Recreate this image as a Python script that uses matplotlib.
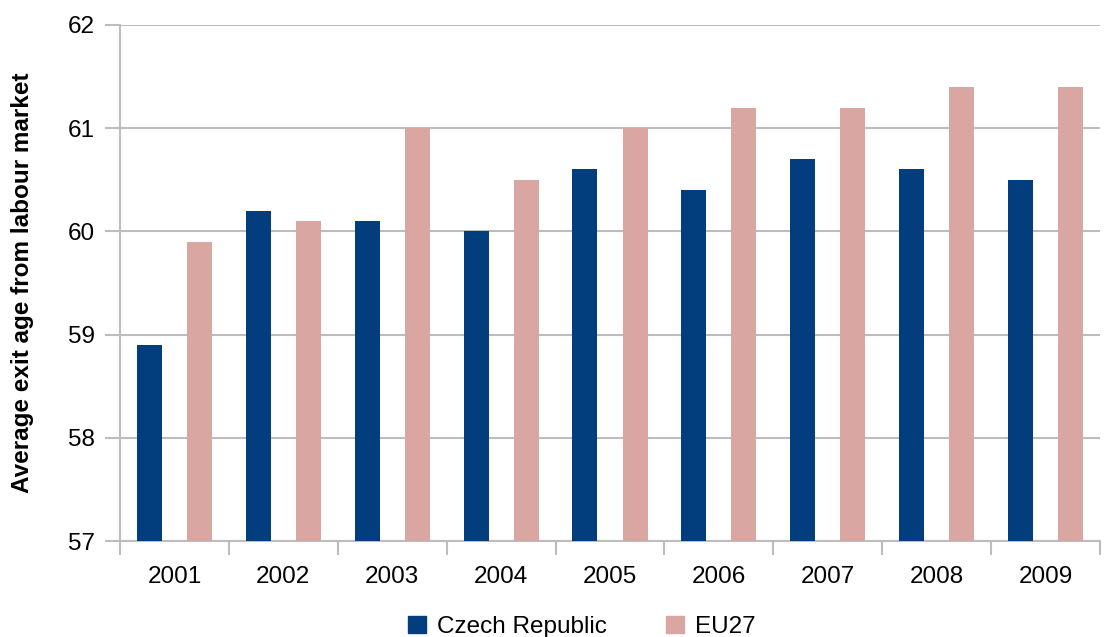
import numpy as np
import matplotlib.pyplot as plt
from matplotlib.patches import Patch

plt.rcParams['font.family'] = ['Liberation Sans', 'DejaVu Sans']

years = ['2001', '2002', '2003', '2004', '2005', '2006', '2007', '2008', '2009']
czech = [58.9, 60.2, 60.1, 60.0, 60.6, 60.4, 60.7, 60.6, 60.5]
eu27 = [59.9, 60.1, 61.0, 60.5, 61.0, 61.2, 61.2, 61.4, 61.4]

c_cz = '#023E7D'
c_eu = '#D9A6A2'
grid_c = '#BDBDBD'

fig = plt.figure(figsize=(11.08, 6.37), dpi=100)
ax = fig.add_axes([0.1083, 0.1507, 0.8845, 0.8101])

x = np.arange(len(years))
w = 0.23
ax.bar(x - 0.23, np.array(czech) - 57, w, bottom=57, color=c_cz, zorder=3)
ax.bar(x + 0.23, np.array(eu27) - 57, w, bottom=57, color=c_eu, zorder=3)

ax.set_ylim(57, 62)
ax.set_xlim(-0.5, len(years) - 0.5)
ax.set_yticks(range(57, 63))
ax.yaxis.grid(True, color=grid_c, linewidth=1.5, zorder=0)

# category labels centred, ticks on category boundaries
ax.set_xticks(x)
ax.set_xticklabels(years)
ax.set_xticks(np.arange(-0.5, len(years)), minor=True)
ax.tick_params(axis='x', which='major', length=0, pad=18, labelsize=17.5)
ax.tick_params(axis='x', which='minor', length=10, width=1.5, color=grid_c)
ax.tick_params(axis='y', length=11, width=1.5, color=grid_c, labelsize=17.5, pad=7)

for s in ['top', 'right']:
    ax.spines[s].set_visible(False)
for s in ['left', 'bottom']:
    ax.spines[s].set_color(grid_c)
    ax.spines[s].set_linewidth(1.5)

ax.set_ylabel('Average exit age from labour market', fontsize=17.5,
              fontweight='bold')
ax.yaxis.set_label_coords(-0.088, 0.5)

handles = [Patch(color=c_cz, label='Czech Republic'),
           Patch(color=c_eu, label='EU27')]
fig.legend(handles=handles, loc='center', bbox_to_anchor=(0.525, 0.016),
           ncol=2, frameon=False, fontsize=17.5, handlelength=0.75,
           handleheight=0.75, handletextpad=0.45, columnspacing=2.45)

fig.savefig('out.png', dpi=100)
